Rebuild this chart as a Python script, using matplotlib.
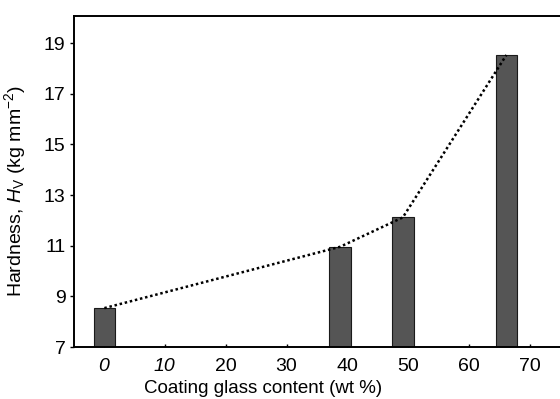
import matplotlib

matplotlib.use("Agg")
import matplotlib.pyplot as plt  # noqa: E402

# glass content (wt %) and Vickers hardness
glass_content = [0.1, 38.8, 49.1, 66.1]
hardness = [8.54, 10.96, 12.12, 18.53]

y_ticks = [7, 9, 11, 13, 15, 17, 19]
x_ticks = [0, 10, 20, 30, 40, 50, 60, 70]

plt.rcParams.update({
    "font.family": ["Liberation Sans", "DejaVu Sans"],
    "font.size": 13,
    "mathtext.fontset": "custom",
    "mathtext.rm": "Liberation Sans",
    "mathtext.it": "Liberation Sans:italic",
})

fig = plt.figure(figsize=(5.6, 3.99), dpi=100)
ax = fig.add_axes([0.132, 0.130, 0.868, 0.830])

ax.bar(glass_content, [h - 7 for h in hardness], bottom=7, width=3.5,
       color="#555555", edgecolor="#1a1a1a", linewidth=0.8, zorder=2)
ax.plot(glass_content, hardness, color="black", linestyle=(0, (1, 1.1)),
        linewidth=1.8, zorder=3)

ax.set_xlim(-4.9, 74.9)
ax.set_ylim(7, 20.07)
ax.set_xticks(x_ticks)
ax.set_yticks(y_ticks)
ax.set_xticklabels([str(t) for t in x_ticks])
for lbl in ax.get_xticklabels()[:2]:
    lbl.set_style("italic")

ax.spines["right"].set_visible(False)
for s in ("left", "top", "bottom"):
    ax.spines[s].set_linewidth(1.4)
ax.tick_params(axis="y", direction="out", length=3, width=1, pad=3,
               labelsize=14)
ax.tick_params(axis="x", direction="in", length=2, width=1, pad=8,
               labelsize=14)

ax.set_xlabel("Coating glass content (wt %)", fontsize=13.5)
ax.xaxis.set_label_coords(0.389, -0.100)
ax.set_ylabel(r"Hardness, $H_\mathrm{V}$ (kg mm$^{-2}$)", fontsize=14)
ax.yaxis.set_label_coords(-0.095, 0.47)

fig.savefig("out.png", dpi=100, facecolor="white")
